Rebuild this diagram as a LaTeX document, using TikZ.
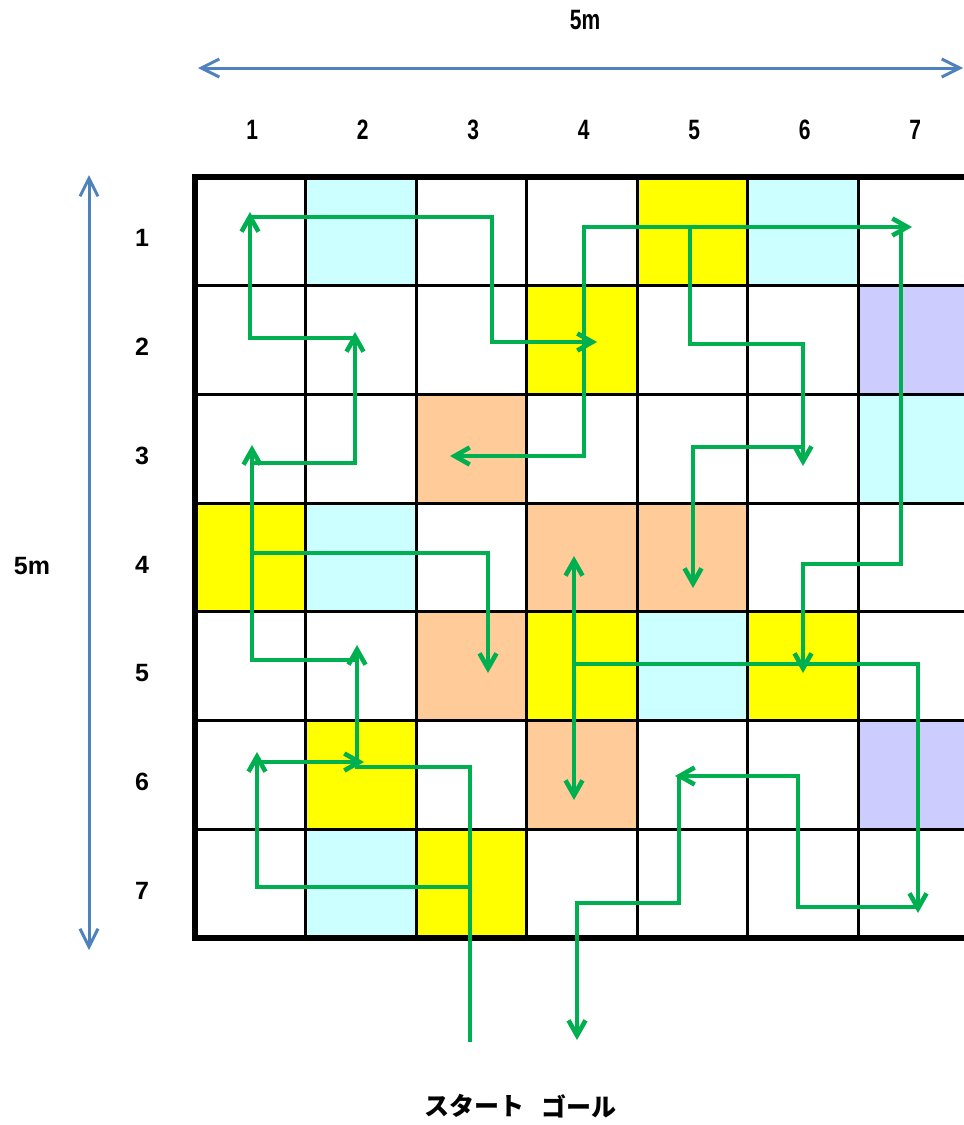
\documentclass[tikz,border=0pt]{standalone}
\usepackage{fontspec}
\setmainfont{Liberation Sans}
\newfontfamily\jpfont{Noto Sans CJK JP}
\usepackage{tikz}
\usetikzlibrary{arrows.meta}
\definecolor{pathgreen}{HTML}{00B050}
\definecolor{rulerblue}{HTML}{4F81BD}
\definecolor{cellaqua}{HTML}{CCFFFF}
\definecolor{cellyellow}{HTML}{FFFF00}
\definecolor{cellpeach}{HTML}{FFCC99}
\definecolor{celllilac}{HTML}{CCCCFF}

\begin{document}
\begin{tikzpicture}[x=.5pt,y=-.5pt,
    route/.style={pathgreen,line width=2.3pt,-{Straight Barb[length=7.5pt,width=8.5pt]}},
    ruler/.style={rulerblue,line width=1.5pt,{Straight Barb[length=9pt,width=9pt]}-{Straight Barb[length=9pt,width=9pt]}},
    lab/.style={font=\fontsize{12.5}{15}\selectfont\bfseries},
    toplab/.style={font=\fontsize{14}{16}\selectfont\bfseries,xscale=.75},
    jp/.style={font=\fontsize{12.5}{15}\selectfont\jpfont\bfseries}]
    \useasboundingbox (0,0) rectangle (964,1125);
    \clip (0,0) rectangle (964,1125);
    % coloured cells: row/column/colour
    \foreach \r/\c/\col in {1/2/cellaqua,1/5/cellyellow,1/6/cellaqua,
        2/4/cellyellow,2/7/celllilac,3/3/cellpeach,3/7/cellaqua,
        4/1/cellyellow,4/2/cellaqua,4/4/cellpeach,4/5/cellpeach,
        5/3/cellpeach,5/4/cellyellow,5/5/cellaqua,5/6/cellyellow,
        6/2/cellyellow,6/4/cellpeach,6/7/celllilac,7/2/cellaqua,7/3/cellyellow}{
      \fill[\col] ({195+(\c-1)*110.5},{177+(\r-1)*108.7}) rectangle ++(110.5,108.7);
    }
    \foreach \i in {1,...,6}{
      \draw[line width=1.5pt] ({195+\i*110.5},177) -- ({195+\i*110.5},938);
      \draw[line width=1.5pt] (195,{177+\i*108.7}) -- (968.5,{177+\i*108.7});
    }
    \draw[line width=2.7pt] (195,177) rectangle (968.5,938);
    % numbers
    \foreach \c in {1,...,7}{
      \node[toplab] (col\c) at ({197+(\c-.5)*110.5},130) {\c};
    }
    \foreach \r in {1,...,7}{
      \node[lab] (row\r) at (142,{184+(\r-.5)*108.7}) {\r};
    }
    \node[toplab] (widthlab) at (585,20) {5m};
    \node[lab] (heightlab) at (32,566) {5m};
    \draw[ruler] (198,68) -- (963,68);
    \draw[ruler] (89,175) -- (89,950);
    % route
    \draw[route] (470,1042) -- (470,887) -- (257,887) -- (257,752);
    \draw[route] (257,762) -- (364,762);
    \draw[route] (470,887) -- (470,767) -- (357,767) -- (357,645);
    \draw[route] (357,660) -- (252,660) -- (252,445);
    \draw[route] (252,463) -- (355,463) -- (355,332);
    \draw[route] (355,338) -- (250,338) -- (250,212);
    \draw[route] (250,217) -- (492,217) -- (492,342) -- (597,342);
    \draw[route] (584,342) -- (584,227) -- (912,227);
    \draw[route] (584,342) -- (584,456) -- (450,456);
    \draw[route] (690,227) -- (690,344) -- (803,344) -- (803,466);
    \draw[route] (803,447) -- (693,447) -- (693,588);
    \draw[route] (901,227) -- (901,564) -- (803,564) -- (803,673);
    \draw[route] (252,553) -- (488,553) -- (488,673);
    \draw[route] (803,664) -- (574,664) -- (574,556);
    \draw[route] (574,664) -- (574,800);
    \draw[route] (803,664) -- (918,664) -- (918,913);
    \draw[route] (918,907) -- (798,907) -- (798,776) -- (675,776);
    \draw[route] (679,776) -- (679,903) -- (577,903) -- (577,1040);
    \node[jp] (start) at (474,1106) {スタート};
    \node[jp] (goal) at (579,1106) {ゴール};
\end{tikzpicture}
\end{document}
